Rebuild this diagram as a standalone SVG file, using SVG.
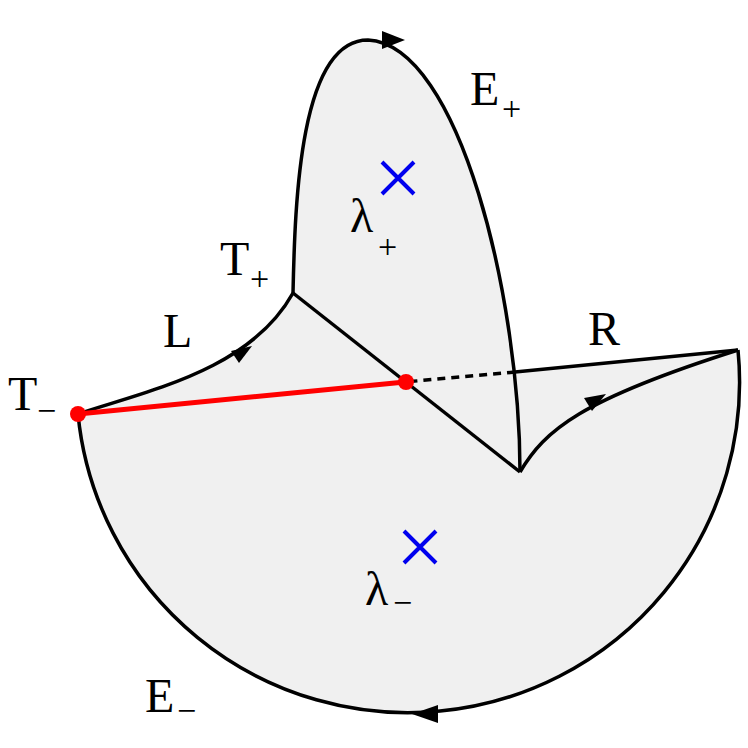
<svg xmlns="http://www.w3.org/2000/svg" width="748" height="748" viewBox="0 0 748 748">
<style>
.l{fill:none;stroke:#000;stroke-width:3.5}
.t{font-family:"Liberation Serif",serif;font-size:48px}
.s{font-family:"Liberation Serif",serif;font-size:34px}
.x{stroke:#0000ee;stroke-width:4}
</style>
<path d="M78,414 C150,390 250,370 293,293 C295,200 300,40 368,40 C460,45 520,300 520,472 C545,430 580,400 738,350 A330,329 0 1 1 78,414 Z" fill="#f0f0f0"/>
<path d="M405,382 L738,350 L520,472 Z" fill="#f0f0f0"/>
<g id="connectors">
<path class="l" d="M78,414 C150,390 250,370 293,293"/>
<path class="l" d="M293,293 C295,200 300,40 368,40 C460,45 520,300 520,472"/>
<path class="l" d="M293,293 L520,472"/>
<path class="l" d="M520,472 C545,430 580,400 738,350"/>
<path class="l" d="M738,350 A330,329 0 1 1 78,414"/>
<path class="l" d="M738,350 L515,372"/>
<path class="l" d="M515,372 L405,382" stroke-dasharray="8,6"/>
<path d="M78,414 L405,382" stroke="#f00" stroke-width="5"/>
<path d="M405,40 L382,31 L382,49 Z"/>
<path d="M252,346 L231,351 L239,363 Z"/>
<path d="M606,394 L584,398 L592,411 Z"/>
<path d="M412,714 L438,705 L438,723 Z"/>
</g>
<g id="Tminus"><circle cx="78" cy="414" r="8" fill="#f00"/><text class="t" x="8" y="410">T</text><text class="s" x="37" y="422">−</text></g>
<g id="Mid"><circle cx="406" cy="382" r="8" fill="#f00"/></g>
<g id="Tplus"><text class="t" x="220" y="275">T</text><text class="s" x="250" y="290">+</text></g>
<g id="Eplus"><text class="t" x="470" y="105">E</text><text class="s" x="502" y="120">+</text></g>
<g id="Eminus"><text class="t" x="145" y="712">E</text><text class="s" x="177" y="722">−</text></g>
<g id="L"><text class="t" x="163" y="347">L</text></g>
<g id="R"><text class="t" x="588" y="345">R</text></g>
<g id="lp"><path class="x" d="M382,162 L414,194 M414,162 L382,194"/><text class="t" x="350" y="232">λ</text><text class="s" x="378" y="258">+</text></g>
<g id="lm"><path class="x" d="M404,531 L436,563 M436,531 L404,563"/><text class="t" x="365" y="605">λ</text><text class="s" x="393" y="614">−</text></g>
</svg>
